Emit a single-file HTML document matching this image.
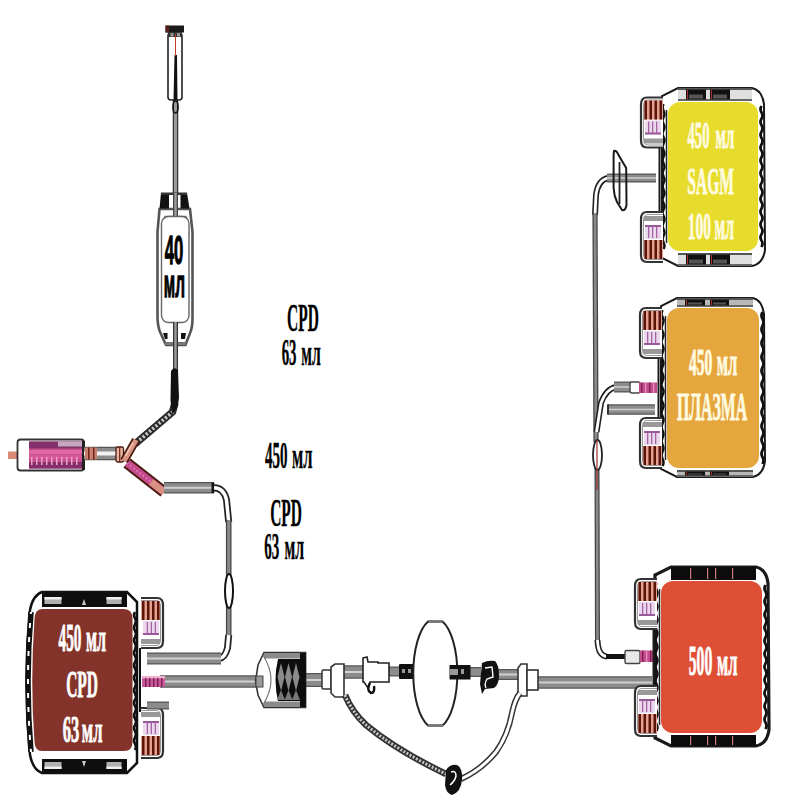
<!DOCTYPE html>
<html><head><meta charset="utf-8"><style>
html,body{margin:0;padding:0;background:#fff;width:800px;height:800px;overflow:hidden}
svg{display:block}
.t{font-family:"Liberation Serif",serif;font-weight:bold}
.s{font-family:"Liberation Sans",sans-serif;font-weight:bold}
</style></head><body>
<svg width="800" height="800" viewBox="0 0 800 800">

<rect width="800" height="800" fill="#fff"/>

<line x1="175.5" y1="100" x2="175.5" y2="194" stroke="#333" stroke-width="5.5"/>
<line x1="175.5" y1="100" x2="175.5" y2="194" stroke="#9a9a9a" stroke-width="3.0"/>
<rect x="168" y="33" width="14" height="67" rx="3" fill="#fff" stroke="#222" stroke-width="1.6"/>
<rect x="165.5" y="25.5" width="18.5" height="7" fill="#1a1a1a"/>
<rect x="165.5" y="25.5" width="3.5" height="7" fill="#5a2020"/>
<rect x="168" y="32" width="14" height="5" fill="#333"/>
<rect x="170.5" y="33" width="3" height="3.5" fill="#999"/><rect x="177" y="33" width="3" height="3.5" fill="#999"/>
<path d="M174.5 55 L177 55 L177.5 100 L173.5 100 Z" fill="#111"/>
<line x1="175.5" y1="34" x2="175.5" y2="56" stroke="#c0392b" stroke-width="1"/>
<ellipse cx="175.5" cy="107" rx="2.5" ry="6" fill="none" stroke="#111" stroke-width="1.6"/>
<path d="M159.5 209 L157.5 232 L157.5 318 Q158 328 160.5 333 L166 345 L185.5 345 L190 333 Q192.5 328 192.5 318 L192.5 232 L190 209 Z" fill="#fff" stroke="#555" stroke-width="2.6"/>
<path d="M161 193 L169 193 L169 208.5 L159.5 208.5 Z" fill="#111"/>
<path d="M180.5 193 L187 193 L189.5 208.5 L180.5 208.5 Z" fill="#111"/>
<rect x="161" y="192.5" width="26" height="2.5" fill="#333"/>
<path d="M161.8 234 L165 216.5 L186 216.5 L189 234" fill="none" stroke="#777" stroke-width="1.5"/>
<rect x="161.5" y="216.5" width="27.5" height="106" rx="7" fill="#fff" stroke="#666" stroke-width="1.4"/>
<path d="M163 333 L167.5 333 L167.5 339 L165 339 Z" fill="#111"/>
<path d="M181 333 L186 333 L185 339 L181 339 Z" fill="#111"/>
<rect x="165" y="342" width="21" height="3" fill="#777"/>
<line x1="175.5" y1="193" x2="175.5" y2="216" stroke="#444" stroke-width="5"/>
<line x1="175.5" y1="193" x2="175.5" y2="216" stroke="#999" stroke-width="2.5"/>
<line x1="175.5" y1="322" x2="175.5" y2="372" stroke="#333" stroke-width="5"/>
<line x1="175.5" y1="322" x2="175.5" y2="372" stroke="#9a9a9a" stroke-width="2.5"/>
<text transform="translate(164.65,263.61) scale(0.1666,0.4040)" style="font-family:'Liberation Sans',sans-serif;font-weight:bold;font-size:100px;font-kerning:none" fill="#000" stroke="#000" stroke-width="1.0" vector-effect="non-scaling-stroke" stroke-linejoin="round">40</text>
<text transform="translate(163.83,297.42) scale(0.1538,0.3866)" style="font-family:'Liberation Sans',sans-serif;font-weight:bold;font-size:100px;font-kerning:none" fill="#000" stroke="#000" stroke-width="1.0" vector-effect="non-scaling-stroke" stroke-linejoin="round">мл</text>
<path d="M175 403 L172.5 412 L135 444" fill="none" stroke="#2a2a2a" stroke-width="7.5"/>
<path d="M175 403 L172.5 412 L135 444" fill="none" stroke="#c8c8c8" stroke-width="3.6" stroke-dasharray="2.2 2"/>
<path d="M171 371 Q174 366 178 370 L179 398 Q178 410 172 414 L170.5 400 Z" fill="#111"/>
<rect x="8" y="451.5" width="11" height="7.5" fill="#d98a74"/>
<rect x="17.5" y="439.5" width="66.5" height="31" rx="3" fill="#fff" stroke="#333" stroke-width="1.8"/>
<rect x="29" y="441.5" width="54" height="27" fill="#c44f8d"/>
<rect x="29" y="441.5" width="54" height="7" fill="#84306a"/>
<rect x="58" y="441.5" width="25" height="5" fill="#c8a8c0"/>
<rect x="29" y="462" width="54" height="6.5" fill="#84306a"/>
<rect x="29" y="450" width="54" height="4" fill="#e066a6"/>
<rect x="29" y="455" width="54" height="4" fill="#d9589a"/>
<rect x="31" y="457" width="1.5" height="8" fill="#f0a0c8"/>
<rect x="36" y="457" width="1.5" height="8" fill="#f0a0c8"/>
<rect x="41" y="457" width="1.5" height="8" fill="#f0a0c8"/>
<rect x="46" y="457" width="1.5" height="8" fill="#f0a0c8"/>
<rect x="51" y="457" width="1.5" height="8" fill="#f0a0c8"/>
<rect x="56" y="457" width="1.5" height="8" fill="#f0a0c8"/>
<rect x="61" y="457" width="1.5" height="8" fill="#f0a0c8"/>
<rect x="66" y="457" width="1.5" height="8" fill="#f0a0c8"/>
<rect x="71" y="457" width="1.5" height="8" fill="#f0a0c8"/>
<rect x="76" y="457" width="1.5" height="8" fill="#f0a0c8"/>
<rect x="82" y="441" width="3" height="29" fill="#222"/>
<line x1="84" y1="453.5" x2="117" y2="453.5" stroke="#555" stroke-width="13.5"/>
<line x1="84" y1="453.5" x2="117" y2="453.5" stroke="#8c8c8c" stroke-width="11.0"/>
<line x1="84" y1="453.5" x2="117" y2="453.5" stroke="#f2f2f2" stroke-width="4"/>
<rect x="85" y="447.5" width="12" height="12" fill="#c98070"/>
<rect x="88" y="447.5" width="1.5" height="12" fill="#6a2418"/><rect x="93" y="447.5" width="1.5" height="12" fill="#6a2418"/>
<path d="M127 463 L164 492" fill="none" stroke="#4a1a10" stroke-width="11.5"/>
<path d="M127 463 L164 492" fill="none" stroke="#c44b8c" stroke-width="7.5"/>
<path d="M127 463 L164 492" fill="none" stroke="#e880b8" stroke-width="1.8" stroke-dasharray="1.5 2.5"/>
<path d="M151 482 L164 492" fill="none" stroke="#d99080" stroke-width="7"/>
<rect x="116" y="447" width="7.5" height="15" rx="1.5" fill="#e8b4a4" stroke="#4a1a10" stroke-width="1.3"/>
<line x1="119.7" y1="447" x2="119.7" y2="462" stroke="#6a2418" stroke-width="1.2"/>
<path d="M124 461 L136 440" fill="none" stroke="#4a1a10" stroke-width="8.5"/>
<path d="M124 461 L136 440" fill="none" stroke="#d89484" stroke-width="5"/>
<path d="M125.5 456 L133 443" fill="none" stroke="#f5cabc" stroke-width="1.5"/>
<line x1="164" y1="487.7" x2="214" y2="487.7" stroke="#555" stroke-width="11.5"/>
<line x1="164" y1="487.7" x2="214" y2="487.7" stroke="#8c8c8c" stroke-width="9.0"/>
<line x1="164" y1="487.7" x2="214" y2="487.7" stroke="#d0d0d0" stroke-width="2"/>
<rect x="211.5" y="482.5" width="2.8" height="10.5" fill="#111"/>
<path d="M214 487.7 Q224 488 226.5 500 L228.7 522" fill="none" stroke="#222" stroke-width="7"/>
<path d="M214 487.7 Q224 488 226.5 500 L228.7 522" fill="none" stroke="#fff" stroke-width="3.5"/>
<line x1="228.7" y1="520" x2="228.7" y2="637" stroke="#444" stroke-width="5.6"/>
<line x1="228.7" y1="520" x2="228.7" y2="637" stroke="#8a8a8a" stroke-width="3.0999999999999996"/>
<path d="M228.7 635 L227.5 648 Q225 658 219 658.5" fill="none" stroke="#222" stroke-width="7"/>
<path d="M228.7 635 L227.5 648 Q225 658 219 658.5" fill="none" stroke="#fff" stroke-width="3.5"/>
<line x1="147" y1="658.5" x2="221" y2="658.5" stroke="#555" stroke-width="12"/>
<line x1="147" y1="658.5" x2="221" y2="658.5" stroke="#8c8c8c" stroke-width="9.5"/>
<line x1="147" y1="658.5" x2="221" y2="658.5" stroke="#d0d0d0" stroke-width="2"/>
<ellipse cx="229" cy="591" rx="4" ry="17" fill="#fff" stroke="#111" stroke-width="2"/>
<line x1="160" y1="681.5" x2="257" y2="681.5" stroke="#555" stroke-width="12.5"/>
<line x1="160" y1="681.5" x2="257" y2="681.5" stroke="#8c8c8c" stroke-width="10.0"/>
<line x1="160" y1="681.5" x2="257" y2="681.5" stroke="#d0d0d0" stroke-width="2"/>
<line x1="305" y1="680" x2="323" y2="680" stroke="#555" stroke-width="14"/>
<line x1="305" y1="680" x2="323" y2="680" stroke="#8c8c8c" stroke-width="11.5"/>
<line x1="305" y1="680" x2="323" y2="680" stroke="#d0d0d0" stroke-width="2"/>
<line x1="344" y1="672" x2="363" y2="672" stroke="#555" stroke-width="13.5"/>
<line x1="344" y1="672" x2="363" y2="672" stroke="#8c8c8c" stroke-width="11.0"/>
<line x1="344" y1="672" x2="363" y2="672" stroke="#d0d0d0" stroke-width="2"/>
<line x1="389" y1="671.5" x2="400" y2="671.5" stroke="#555" stroke-width="10"/>
<line x1="389" y1="671.5" x2="400" y2="671.5" stroke="#8c8c8c" stroke-width="7.5"/>
<line x1="470" y1="672" x2="481" y2="672" stroke="#555" stroke-width="10"/>
<line x1="470" y1="672" x2="481" y2="672" stroke="#8c8c8c" stroke-width="7.5"/>
<line x1="498" y1="674.5" x2="518" y2="674.5" stroke="#555" stroke-width="11"/>
<line x1="498" y1="674.5" x2="518" y2="674.5" stroke="#8c8c8c" stroke-width="8.5"/>
<line x1="498" y1="674.5" x2="518" y2="674.5" stroke="#d0d0d0" stroke-width="2"/>
<line x1="537" y1="682.5" x2="652" y2="682.5" stroke="#555" stroke-width="12.5"/>
<line x1="537" y1="682.5" x2="652" y2="682.5" stroke="#8c8c8c" stroke-width="10.0"/>
<line x1="537" y1="682.5" x2="652" y2="682.5" stroke="#d0d0d0" stroke-width="2"/>
<path d="M42 592 L127 592 L137 602 L137 763 L127 773 L42 773 Q33 770 30 755 Q23 682 30 610 Q33 595 42 592 Z" fill="#fff" stroke="#111" stroke-width="2.5"/>
<rect x="42" y="593" width="85" height="14" fill="#0e0e0e"/>
<rect x="44.5" y="597" width="17" height="7" fill="#b0b0b0"/>
<rect x="44.5" y="597" width="17" height="2.5" fill="#f0f0f0"/>
<rect x="106.5" y="597" width="15" height="7" fill="#b0b0b0"/>
<rect x="106.5" y="597" width="15" height="2.5" fill="#f0f0f0"/>
<path d="M82 605 L84 599 L86 605 Z" fill="#ccc"/>
<rect x="42" y="759" width="85" height="14" fill="#0e0e0e"/>
<rect x="44.5" y="762" width="17" height="7" fill="#b0b0b0"/>
<rect x="44.5" y="766.5" width="17" height="2.5" fill="#f0f0f0"/>
<rect x="106.5" y="762" width="15" height="7" fill="#b0b0b0"/>
<rect x="106.5" y="766.5" width="15" height="2.5" fill="#f0f0f0"/>
<path d="M82 761 L84 767 L86 761 Z" fill="#ccc"/>
<path d="M31 612 Q25 682 31 752" fill="none" stroke="#111" stroke-width="5.5"/>
<path d="M31 612 Q25 682 31 752" fill="none" stroke="#fff" stroke-width="2" stroke-dasharray="5 9" stroke-dashoffset="3"/>

<path d="M0 0 q-2 4 0 8 q2 4 0 8 q-2 4 0 8 q2 4 0 8 q-2 4 0 8 q2 4 0 8 q-2 4 0 8 q2 4 0 8 q-2 4 0 8 q2 4 0 8 q-2 4 0 8 q2 4 0 8 q-2 4 0 8 q2 4 0 8 q-2 4 0 8 q2 4 0 8 q-2 4 0 8 q2 4 0 8 q-2 4 0 8 q2 4 0 8 q-2 4 0 8 q2 4 0 8" transform="translate(135,612) scale(1,0.784)" fill="none" stroke="#111" stroke-width="2.6"/>

<path d="M42 609 L124 609 Q132.5 609 132.5 619 L132.5 742 Q132.5 751 124 751 L42 751 Q35 751 34.5 742 Q30 682 34.5 619 Q35 609 42 609 Z" fill="#84332a"/>
<text transform="translate(58.54,651.00) scale(0.1529,0.4060)" style="font-family:'Liberation Serif',serif;font-weight:bold;font-size:100px;font-kerning:none" fill="#fff" stroke="#fff" stroke-width="0.7" vector-effect="non-scaling-stroke" stroke-linejoin="round">450</text>
<text transform="translate(86.08,651.03) scale(0.1606,0.3765)" style="font-family:'Liberation Serif',serif;font-weight:bold;font-size:100px;font-kerning:none" fill="#fff" stroke="#fff" stroke-width="0.7" vector-effect="non-scaling-stroke" stroke-linejoin="round">мл</text>
<text transform="translate(66.14,696.52) scale(0.1548,0.3885)" style="font-family:'Liberation Serif',serif;font-weight:bold;font-size:100px;font-kerning:none" fill="#fff" stroke="#fff" stroke-width="0.7" vector-effect="non-scaling-stroke" stroke-linejoin="round">CPD</text>
<text transform="translate(62.64,742.22) scale(0.1653,0.3885)" style="font-family:'Liberation Serif',serif;font-weight:bold;font-size:100px;font-kerning:none" fill="#fff" stroke="#fff" stroke-width="0.7" vector-effect="non-scaling-stroke" stroke-linejoin="round">63</text>
<text transform="translate(81.86,742.25) scale(0.1656,0.3627)" style="font-family:'Liberation Serif',serif;font-weight:bold;font-size:100px;font-kerning:none" fill="#fff" stroke="#fff" stroke-width="0.7" vector-effect="non-scaling-stroke" stroke-linejoin="round">мл</text>
<path d="M264 652.5 L305.6 652.5 L305.6 707.5 L264 707.5 L258 695 L255.6 681 L258 665 Z" fill="#fff" stroke="#333" stroke-width="1.6"/>
<rect x="264" y="653" width="38" height="5.5" fill="#8a8a8a"/>
<rect x="264" y="701.5" width="38" height="5.5" fill="#8a8a8a"/>
<path d="M263 655 Q271 668 271 680 Q271 692 263 705" fill="none" stroke="#777" stroke-width="1.2"/>
<path d="M278 659 L305.6 659 L305.6 701 L278 701 Q273 680 278 659 Z" fill="#0d0d0d"/>
<rect x="300" y="653" width="5.6" height="54" fill="#0d0d0d"/>
<path d="M281 663 L284.5 677 L281 691 L277.5 677 Z M288.5 663 L292 677 L288.5 691 L285 677 Z M296 663 L299.5 677 L296 691 L292.5 677 Z" fill="#8a8a8a"/>
<path d="M284.5 700 L288.5 690 L292.5 700 Z M277 700 L281 690 L285 700 Z M292 700 L296 690 L300 700 Z" fill="#777"/>
<rect x="256" y="676" width="7" height="11" fill="#999" stroke="#444" stroke-width="1"/>
<rect x="322" y="670" width="9" height="19" rx="1.5" fill="#fff" stroke="#333" stroke-width="1.5"/>
<path d="M331 667 L335 664 L344 664 L344 697 L335 697 L331 693 Z" fill="#fff" stroke="#333" stroke-width="1.6"/>
<path d="M363 658 L367 657 L368 662 L378 662 L378 663 L389 663 L389 682 L370 682 L368 688 L364 682 L363 682 Z" fill="#fff" stroke="#222" stroke-width="1.6"/>
<path d="M370 683 Q366 690 371 693 Q375 693 374 686" fill="none" stroke="#111" stroke-width="2.5"/>
<rect x="399" y="664" width="15" height="15" rx="1" fill="#111"/>
<rect x="402" y="669" width="3" height="4" fill="#999"/><rect x="408" y="669" width="3" height="4" fill="#999"/>
<path d="M428.1 621.5 L442.5 621.5 A22 55 0 0 1 442.5 725.5 L428.1 725.5 A22 55 0 0 1 428.1 621.5 Z" fill="#fff" stroke="#222" stroke-width="2"/>
<line x1="428.5" y1="621.5" x2="442.5" y2="621.5" stroke="#777" stroke-width="2.5"/>
<line x1="428" y1="725.5" x2="443" y2="725.5" stroke="#777" stroke-width="2.5"/>
<rect x="449.5" y="665" width="21" height="14.5" fill="#111"/>
<rect x="450" y="669" width="8" height="6" fill="#999"/>
<rect x="461" y="669" width="3" height="5" fill="#999"/>
<path d="M482 663 Q488 660 495 661 Q499 665 499 675 Q499 685 494 688 L485 689 L482 694 L480 684 Z" fill="#111"/>
<path d="M485 668 L492 667 L493 677 L487 679 Q484 684 486 688" fill="none" stroke="#fff" stroke-width="1.4"/>
<path d="M518 668 L521 664 L527 664 L527 696 L521 696 L518 692 Z" fill="#fff" stroke="#333" stroke-width="1.6"/>
<rect x="527" y="670" width="11" height="20" fill="#fff" stroke="#333" stroke-width="1.6"/>
<path d="M345 695 Q352 712 366 725 Q396 750 446 774" fill="none" stroke="#333" stroke-width="6.5"/>
<path d="M345 695 Q352 712 366 725 Q396 750 446 774" fill="none" stroke="#c8c8c8" stroke-width="3" stroke-dasharray="2 1.6"/>
<path d="M461 779 Q481 770 496 752 Q508 735 512 713 Q515 699 520 693" fill="none" stroke="#333" stroke-width="6"/>
<path d="M461 779 Q481 770 496 752 Q508 735 512 713 Q515 699 520 693" fill="none" stroke="#fff" stroke-width="3"/>
<path d="M446 770 Q450 764 457 765 Q463 768 462 780 Q461 792 452 795 Q446 793 445 785 Z" fill="#111"/>
<path d="M451 772 Q456 770 456 776 Q455 781 450 785" fill="none" stroke="#fff" stroke-width="1.5"/>
<path d="M608 178 Q598 180 596 195 L595 215" fill="none" stroke="#222" stroke-width="6"/>
<path d="M608 178 Q598 180 596 195 L595 215" fill="none" stroke="#fff" stroke-width="2.8"/>
<line x1="595" y1="213" x2="596" y2="442" stroke="#444" stroke-width="5.2"/>
<line x1="595" y1="213" x2="596" y2="442" stroke="#8a8a8a" stroke-width="2.7"/>
<line x1="597" y1="468" x2="597.5" y2="642" stroke="#444" stroke-width="5"/>
<line x1="597" y1="468" x2="597.5" y2="642" stroke="#8a8a8a" stroke-width="2.5"/>
<path d="M597.5 640 Q598 656 607 656.5" fill="none" stroke="#222" stroke-width="6"/>
<path d="M597.5 640 Q598 656 607 656.5" fill="none" stroke="#fff" stroke-width="2.8"/>
<line x1="606" y1="656.5" x2="626" y2="656.5" stroke="#111" stroke-width="5"/>
<line x1="607" y1="178" x2="656" y2="178" stroke="#555" stroke-width="9"/>
<line x1="607" y1="178" x2="656" y2="178" stroke="#8c8c8c" stroke-width="6.5"/>
<line x1="607" y1="178" x2="656" y2="178" stroke="#d0d0d0" stroke-width="1.5"/>
<path d="M614 151 Q616.5 150 618.5 155 L626.2 168 L626.5 205 Q625.5 211 622 210 L617 202 Q614 196 613.6 188 L613.6 155 Z" fill="none" stroke="#1a1a1a" stroke-width="2"/>
<path d="M619.5 162 L619.5 204" fill="none" stroke="#222" stroke-width="1.8"/>
<path d="M616 387 Q606 389 601 403 L596.5 432" fill="none" stroke="#222" stroke-width="6"/>
<path d="M616 387 Q606 389 601 403 L596.5 432" fill="none" stroke="#fff" stroke-width="2.8"/>
<line x1="614" y1="387" x2="631" y2="387" stroke="#555" stroke-width="11"/>
<line x1="614" y1="387" x2="631" y2="387" stroke="#8c8c8c" stroke-width="8.5"/>
<line x1="614" y1="387" x2="631" y2="387" stroke="#d0d0d0" stroke-width="1.5"/>
<rect x="630" y="382" width="10" height="11" rx="2" fill="#fff" stroke="#444" stroke-width="1.4"/>
<rect x="639" y="382.5" width="18" height="10.5" fill="#c04c8c"/>
<rect x="641" y="382.5" width="1.3" height="10.5" fill="#7a2050"/><rect x="645" y="382.5" width="1.3" height="10.5" fill="#e890c0"/><rect x="649" y="382.5" width="1.3" height="10.5" fill="#7a2050"/><rect x="653" y="382.5" width="1.3" height="10.5" fill="#e890c0"/>
<line x1="608" y1="409.5" x2="655" y2="409.5" stroke="#555" stroke-width="10.5"/>
<line x1="608" y1="409.5" x2="655" y2="409.5" stroke="#8c8c8c" stroke-width="8.0"/>
<line x1="608" y1="409.5" x2="655" y2="409.5" stroke="#d0d0d0" stroke-width="1.5"/>
<rect x="607" y="404.3" width="2" height="10.4" fill="#333"/>
<ellipse cx="597.5" cy="455" rx="4.5" ry="15" fill="#fff" stroke="#222" stroke-width="1.8"/>
<line x1="597" y1="440" x2="597" y2="490" stroke="#a03030" stroke-width="1.2"/>
<rect x="625" y="650.5" width="15" height="13" rx="1.5" fill="#e8e8e8" stroke="#444" stroke-width="1.4"/>
<rect x="640" y="650.5" width="18" height="11.5" fill="#c44b8c"/>
<rect x="642" y="650.5" width="1.3" height="11.5" fill="#7a2050"/><rect x="646" y="650.5" width="1.3" height="11.5" fill="#e890c0"/><rect x="650" y="650.5" width="1.3" height="11.5" fill="#7a2050"/><rect x="654" y="650.5" width="1.3" height="11.5" fill="#e890c0"/>
<path d="M678 88 L752 88 Q762 90 764 104 L765 250 Q763 264 752 266 L678 266 L662 258 L662 96 Z" fill="#fff" stroke="#1a1a1a" stroke-width="2"/>
<path d="M0 0 q-2 4 0 8 q2 4 0 8 q-2 4 0 8 q2 4 0 8 q-2 4 0 8 q2 4 0 8 q-2 4 0 8 q2 4 0 8 q-2 4 0 8 q2 4 0 8 q-2 4 0 8 q2 4 0 8 q-2 4 0 8 q2 4 0 8 q-2 4 0 8 q2 4 0 8 q-2 4 0 8 q2 4 0 8 q-2 4 0 8 q2 4 0 8 q-2 4 0 8 q2 4 0 8" transform="translate(761.5,106) scale(1,0.8011363636363636)" fill="none" stroke="#111" stroke-width="2.8"/>
<rect x="678" y="88" width="74" height="13" fill="#e0e0e0"/>
<rect x="678" y="88" width="74" height="2" fill="#555"/>
<rect x="678" y="99" width="74" height="2" fill="#666"/>
<rect x="686" y="89.5" width="20" height="10" fill="#111"/>
<rect x="689" y="94.5" width="14" height="4.0" fill="#555"/>
<rect x="687" y="90" width="1" height="9" fill="#a33"/>
<rect x="710" y="89.5" width="20" height="10" fill="#111"/>
<rect x="713" y="94.5" width="14" height="4.0" fill="#555"/>
<rect x="711" y="90" width="1" height="9" fill="#a33"/>
<rect x="678" y="253" width="74" height="13" fill="#e0e0e0"/>
<rect x="678" y="253" width="74" height="2" fill="#555"/>
<rect x="678" y="264" width="74" height="2" fill="#666"/>
<rect x="686" y="254.5" width="20" height="10" fill="#111"/>
<rect x="689" y="259.5" width="14" height="4.0" fill="#555"/>
<rect x="687" y="255" width="1" height="9" fill="#a33"/>
<rect x="710" y="254.5" width="20" height="10" fill="#111"/>
<rect x="713" y="259.5" width="14" height="4.0" fill="#555"/>
<rect x="711" y="255" width="1" height="9" fill="#a33"/>
<rect x="668" y="102" width="90" height="149" rx="12" fill="#e7dc2b"/>
<line x1="666.5" y1="110" x2="666.5" y2="243" stroke="#222" stroke-width="1.5"/>
<path d="M0 0 q-2 4 0 8 q2 4 0 8 q-2 4 0 8 q2 4 0 8 q-2 4 0 8 q2 4 0 8 q-2 4 0 8 q2 4 0 8 q-2 4 0 8 q2 4 0 8 q-2 4 0 8 q2 4 0 8 q-2 4 0 8 q2 4 0 8 q-2 4 0 8 q2 4 0 8 q-2 4 0 8 q2 4 0 8 q-2 4 0 8 q2 4 0 8 q-2 4 0 8 q2 4 0 8" transform="translate(663.5,104) scale(1,0.8238636363636364)" fill="none" stroke="#111" stroke-width="2.5"/>
<line x1="659.5" y1="147.5" x2="659.5" y2="212" stroke="#1a1a1a" stroke-width="2"/>
<g transform="translate(640,97.5)">    <path d="M23 0 L7 0 Q1 0 1 7 L1 43 Q1 50 7 50 L23 50" fill="#fff" stroke="#333" stroke-width="2.2"/>
    <path d="M23 2.5 L8 2.5 Q3.5 2.5 3.5 8 L3.5 42 Q3.5 47.5 8 47.5 L23 47.5" fill="none" stroke="#999" stroke-width="1"/>
    <rect x="4" y="3" width="19" height="19" fill="#e6a090"/>
    <rect x="4.5" y="3" width="2.5" height="19" fill="#5a140a"/>
    <rect x="9.5" y="3" width="2.5" height="19" fill="#5a140a"/>
    <rect x="14.5" y="3" width="2.5" height="19" fill="#5a140a"/>
    <rect x="19.5" y="3" width="2.5" height="19" fill="#5a140a"/>
    <rect x="5" y="23" width="16" height="14" fill="#ecd8ec"/>
    <rect x="8" y="24" width="1.3" height="12" fill="#a463a4"/>
    <rect x="12" y="24" width="1.3" height="12" fill="#a463a4"/>
    <rect x="16" y="24" width="1.3" height="12" fill="#a463a4"/>
    <rect x="5" y="35" width="16" height="2" fill="#9a5a9a"/>
    <rect x="4" y="41" width="19" height="5" fill="#999"/>
</g>
<g transform="translate(640,262) scale(1,-1)">    <path d="M23 0 L7 0 Q1 0 1 7 L1 43 Q1 50 7 50 L23 50" fill="#fff" stroke="#333" stroke-width="2.2"/>
    <path d="M23 2.5 L8 2.5 Q3.5 2.5 3.5 8 L3.5 42 Q3.5 47.5 8 47.5 L23 47.5" fill="none" stroke="#999" stroke-width="1"/>
    <rect x="4" y="3" width="19" height="19" fill="#e6a090"/>
    <rect x="4.5" y="3" width="2.5" height="19" fill="#5a140a"/>
    <rect x="9.5" y="3" width="2.5" height="19" fill="#5a140a"/>
    <rect x="14.5" y="3" width="2.5" height="19" fill="#5a140a"/>
    <rect x="19.5" y="3" width="2.5" height="19" fill="#5a140a"/>
    <rect x="5" y="23" width="16" height="14" fill="#ecd8ec"/>
    <rect x="8" y="24" width="1.3" height="12" fill="#a463a4"/>
    <rect x="12" y="24" width="1.3" height="12" fill="#a463a4"/>
    <rect x="16" y="24" width="1.3" height="12" fill="#a463a4"/>
    <rect x="5" y="35" width="16" height="2" fill="#9a5a9a"/>
    <rect x="4" y="41" width="19" height="5" fill="#999"/>
</g>
<text transform="translate(687.50,147.93) scale(0.1471,0.3794)" style="font-family:'Liberation Serif',serif;font-weight:bold;font-size:100px;font-kerning:none" fill="#fffbe0" stroke="#fffbe0" stroke-width="0.7" vector-effect="non-scaling-stroke" stroke-linejoin="round">450</text>
<text transform="translate(715.40,147.96) scale(0.1530,0.3477)" style="font-family:'Liberation Serif',serif;font-weight:bold;font-size:100px;font-kerning:none" fill="#fffbe0" stroke="#fffbe0" stroke-width="0.7" vector-effect="non-scaling-stroke" stroke-linejoin="round">мл</text>
<text transform="translate(687.17,193.63) scale(0.1566,0.3795)" style="font-family:'Liberation Serif',serif;font-weight:bold;font-size:100px;font-kerning:none" fill="#fffbe0" stroke="#fffbe0" stroke-width="0.7" vector-effect="non-scaling-stroke" stroke-linejoin="round">SAGM</text>
<text transform="translate(687.77,238.84) scale(0.1541,0.3705)" style="font-family:'Liberation Serif',serif;font-weight:bold;font-size:100px;font-kerning:none" fill="#fffbe0" stroke="#fffbe0" stroke-width="0.7" vector-effect="non-scaling-stroke" stroke-linejoin="round">100</text>
<text transform="translate(714.59,238.82) scale(0.1572,0.3861)" style="font-family:'Liberation Serif',serif;font-weight:bold;font-size:100px;font-kerning:none" fill="#fffbe0" stroke="#fffbe0" stroke-width="0.7" vector-effect="non-scaling-stroke" stroke-linejoin="round">мл</text>
<path d="M677 298 L753 298 Q762 300 764 314 L765 461 Q763 475 753 477 L677 477 L661 469 L661 306 Z" fill="#fff" stroke="#1a1a1a" stroke-width="2"/>
<path d="M0 0 q-2 4 0 8 q2 4 0 8 q-2 4 0 8 q2 4 0 8 q-2 4 0 8 q2 4 0 8 q-2 4 0 8 q2 4 0 8 q-2 4 0 8 q2 4 0 8 q-2 4 0 8 q2 4 0 8 q-2 4 0 8 q2 4 0 8 q-2 4 0 8 q2 4 0 8 q-2 4 0 8 q2 4 0 8 q-2 4 0 8 q2 4 0 8 q-2 4 0 8 q2 4 0 8" transform="translate(762.5,312) scale(1,0.8636363636363636)" fill="none" stroke="#111" stroke-width="2.8"/>
<rect x="677" y="298" width="76" height="9" fill="#b8b8b8"/>
<rect x="677" y="298" width="76" height="2" fill="#555"/>
<rect x="677" y="305" width="76" height="2" fill="#666"/>
<rect x="685" y="299.5" width="20" height="6" fill="#111"/>
<rect x="688" y="302.5" width="14" height="2.0" fill="#555"/>
<rect x="686" y="300" width="1" height="5" fill="#a33"/>
<rect x="710" y="299.5" width="19" height="6" fill="#111"/>
<rect x="713" y="302.5" width="13" height="2.0" fill="#555"/>
<rect x="711" y="300" width="1" height="5" fill="#a33"/>
<rect x="677" y="470" width="76" height="7" fill="#b8b8b8"/>
<rect x="677" y="470" width="76" height="2" fill="#555"/>
<rect x="677" y="475" width="76" height="2" fill="#666"/>
<rect x="685" y="471.5" width="20" height="4" fill="#111"/>
<rect x="688" y="473.5" width="14" height="1.0" fill="#555"/>
<rect x="686" y="472" width="1" height="3" fill="#a33"/>
<rect x="710" y="471.5" width="19" height="4" fill="#111"/>
<rect x="713" y="473.5" width="13" height="1.0" fill="#555"/>
<rect x="711" y="472" width="1" height="3" fill="#a33"/>
<rect x="667" y="308" width="92" height="160" rx="12" fill="#e6a63e"/>
<line x1="665.5" y1="316" x2="665.5" y2="460" stroke="#222" stroke-width="1.5"/>
<path d="M0 0 q-2 4 0 8 q2 4 0 8 q-2 4 0 8 q2 4 0 8 q-2 4 0 8 q2 4 0 8 q-2 4 0 8 q2 4 0 8 q-2 4 0 8 q2 4 0 8 q-2 4 0 8 q2 4 0 8 q-2 4 0 8 q2 4 0 8 q-2 4 0 8 q2 4 0 8 q-2 4 0 8 q2 4 0 8 q-2 4 0 8 q2 4 0 8 q-2 4 0 8 q2 4 0 8" transform="translate(662.5,310) scale(1,0.8863636363636364)" fill="none" stroke="#111" stroke-width="2.5"/>
<line x1="658.5" y1="358" x2="658.5" y2="418" stroke="#1a1a1a" stroke-width="2"/>
<g transform="translate(639,308)">    <path d="M23 0 L7 0 Q1 0 1 7 L1 43 Q1 50 7 50 L23 50" fill="#fff" stroke="#333" stroke-width="2.2"/>
    <path d="M23 2.5 L8 2.5 Q3.5 2.5 3.5 8 L3.5 42 Q3.5 47.5 8 47.5 L23 47.5" fill="none" stroke="#999" stroke-width="1"/>
    <rect x="4" y="3" width="19" height="19" fill="#e6a090"/>
    <rect x="4.5" y="3" width="2.5" height="19" fill="#5a140a"/>
    <rect x="9.5" y="3" width="2.5" height="19" fill="#5a140a"/>
    <rect x="14.5" y="3" width="2.5" height="19" fill="#5a140a"/>
    <rect x="19.5" y="3" width="2.5" height="19" fill="#5a140a"/>
    <rect x="5" y="23" width="16" height="14" fill="#ecd8ec"/>
    <rect x="8" y="24" width="1.3" height="12" fill="#a463a4"/>
    <rect x="12" y="24" width="1.3" height="12" fill="#a463a4"/>
    <rect x="16" y="24" width="1.3" height="12" fill="#a463a4"/>
    <rect x="5" y="35" width="16" height="2" fill="#9a5a9a"/>
    <rect x="4" y="41" width="19" height="5" fill="#999"/>
</g>
<g transform="translate(639,468) scale(1,-1)">    <path d="M23 0 L7 0 Q1 0 1 7 L1 43 Q1 50 7 50 L23 50" fill="#fff" stroke="#333" stroke-width="2.2"/>
    <path d="M23 2.5 L8 2.5 Q3.5 2.5 3.5 8 L3.5 42 Q3.5 47.5 8 47.5 L23 47.5" fill="none" stroke="#999" stroke-width="1"/>
    <rect x="4" y="3" width="19" height="19" fill="#e6a090"/>
    <rect x="4.5" y="3" width="2.5" height="19" fill="#5a140a"/>
    <rect x="9.5" y="3" width="2.5" height="19" fill="#5a140a"/>
    <rect x="14.5" y="3" width="2.5" height="19" fill="#5a140a"/>
    <rect x="19.5" y="3" width="2.5" height="19" fill="#5a140a"/>
    <rect x="5" y="23" width="16" height="14" fill="#ecd8ec"/>
    <rect x="8" y="24" width="1.3" height="12" fill="#a463a4"/>
    <rect x="12" y="24" width="1.3" height="12" fill="#a463a4"/>
    <rect x="16" y="24" width="1.3" height="12" fill="#a463a4"/>
    <rect x="5" y="35" width="16" height="2" fill="#9a5a9a"/>
    <rect x="4" y="41" width="19" height="5" fill="#999"/>
</g>
<text transform="translate(688.89,374.53) scale(0.1554,0.3749)" style="font-family:'Liberation Serif',serif;font-weight:bold;font-size:100px;font-kerning:none" fill="#fffbe0" stroke="#fffbe0" stroke-width="0.7" vector-effect="non-scaling-stroke" stroke-linejoin="round">450</text>
<text transform="translate(716.76,374.52) scale(0.1656,0.3840)" style="font-family:'Liberation Serif',serif;font-weight:bold;font-size:100px;font-kerning:none" fill="#fffbe0" stroke="#fffbe0" stroke-width="0.7" vector-effect="non-scaling-stroke" stroke-linejoin="round">мл</text>
<text transform="translate(676.99,420.02) scale(0.1580,0.3929)" style="font-family:'Liberation Serif',serif;font-weight:bold;font-size:100px;font-kerning:none" fill="#fffbe0" stroke="#fffbe0" stroke-width="0.7" vector-effect="non-scaling-stroke" stroke-linejoin="round">ПЛАЗМА</text>
<path d="M671 567 L756 567 Q766 569 768 583 L769 730 Q767 744 756 746 L671 746 L655 738 L655 575 Z" fill="#fff" stroke="#1a1a1a" stroke-width="3.2"/>
<path d="M0 0 q-2 4 0 8 q2 4 0 8 q-2 4 0 8 q2 4 0 8 q-2 4 0 8 q2 4 0 8 q-2 4 0 8 q2 4 0 8 q-2 4 0 8 q2 4 0 8 q-2 4 0 8 q2 4 0 8 q-2 4 0 8 q2 4 0 8 q-2 4 0 8 q2 4 0 8 q-2 4 0 8 q2 4 0 8 q-2 4 0 8 q2 4 0 8 q-2 4 0 8 q2 4 0 8" transform="translate(765.5,585) scale(1,0.8181818181818182)" fill="none" stroke="#111" stroke-width="2.8"/>
<rect x="671" y="567" width="85" height="13" fill="#0c0c0c"/>
<rect x="690" y="568" width="1.2" height="11" fill="#d07a80"/>
<rect x="707" y="568" width="1.2" height="11" fill="#d07a80"/>
<rect x="715" y="568" width="1.2" height="11" fill="#d07a80"/>
<rect x="732" y="568" width="1.2" height="11" fill="#d07a80"/>
<rect x="671" y="735" width="85" height="11" fill="#0c0c0c"/>
<rect x="690" y="736" width="1.2" height="9" fill="#d07a80"/>
<rect x="707" y="736" width="1.2" height="9" fill="#d07a80"/>
<rect x="715" y="736" width="1.2" height="9" fill="#d07a80"/>
<rect x="732" y="736" width="1.2" height="9" fill="#d07a80"/>
<rect x="661" y="581" width="101" height="152" rx="12" fill="#df4f35"/>
<line x1="659.5" y1="589" x2="659.5" y2="725" stroke="#222" stroke-width="1.5"/>
<path d="M0 0 q-2 4 0 8 q2 4 0 8 q-2 4 0 8 q2 4 0 8 q-2 4 0 8 q2 4 0 8 q-2 4 0 8 q2 4 0 8 q-2 4 0 8 q2 4 0 8 q-2 4 0 8 q2 4 0 8 q-2 4 0 8 q2 4 0 8 q-2 4 0 8 q2 4 0 8 q-2 4 0 8 q2 4 0 8 q-2 4 0 8 q2 4 0 8 q-2 4 0 8 q2 4 0 8" transform="translate(656.5,583) scale(1,0.8409090909090909)" fill="none" stroke="#111" stroke-width="2.5"/>
<line x1="653.5" y1="629" x2="653.5" y2="686" stroke="#1a1a1a" stroke-width="2"/>
<g transform="translate(634,579)">    <path d="M23 0 L7 0 Q1 0 1 7 L1 43 Q1 50 7 50 L23 50" fill="#fff" stroke="#333" stroke-width="2.2"/>
    <path d="M23 2.5 L8 2.5 Q3.5 2.5 3.5 8 L3.5 42 Q3.5 47.5 8 47.5 L23 47.5" fill="none" stroke="#999" stroke-width="1"/>
    <rect x="4" y="3" width="19" height="19" fill="#e6a090"/>
    <rect x="4.5" y="3" width="2.5" height="19" fill="#5a140a"/>
    <rect x="9.5" y="3" width="2.5" height="19" fill="#5a140a"/>
    <rect x="14.5" y="3" width="2.5" height="19" fill="#5a140a"/>
    <rect x="19.5" y="3" width="2.5" height="19" fill="#5a140a"/>
    <rect x="5" y="23" width="16" height="14" fill="#ecd8ec"/>
    <rect x="8" y="24" width="1.3" height="12" fill="#a463a4"/>
    <rect x="12" y="24" width="1.3" height="12" fill="#a463a4"/>
    <rect x="16" y="24" width="1.3" height="12" fill="#a463a4"/>
    <rect x="5" y="35" width="16" height="2" fill="#9a5a9a"/>
    <rect x="4" y="41" width="19" height="5" fill="#999"/>
</g>
<g transform="translate(634,736) scale(1,-1)">    <path d="M23 0 L7 0 Q1 0 1 7 L1 43 Q1 50 7 50 L23 50" fill="#fff" stroke="#333" stroke-width="2.2"/>
    <path d="M23 2.5 L8 2.5 Q3.5 2.5 3.5 8 L3.5 42 Q3.5 47.5 8 47.5 L23 47.5" fill="none" stroke="#999" stroke-width="1"/>
    <rect x="4" y="3" width="19" height="19" fill="#e6a090"/>
    <rect x="4.5" y="3" width="2.5" height="19" fill="#5a140a"/>
    <rect x="9.5" y="3" width="2.5" height="19" fill="#5a140a"/>
    <rect x="14.5" y="3" width="2.5" height="19" fill="#5a140a"/>
    <rect x="19.5" y="3" width="2.5" height="19" fill="#5a140a"/>
    <rect x="5" y="23" width="16" height="14" fill="#ecd8ec"/>
    <rect x="8" y="24" width="1.3" height="12" fill="#a463a4"/>
    <rect x="12" y="24" width="1.3" height="12" fill="#a463a4"/>
    <rect x="16" y="24" width="1.3" height="12" fill="#a463a4"/>
    <rect x="5" y="35" width="16" height="2" fill="#9a5a9a"/>
    <rect x="4" y="41" width="19" height="5" fill="#999"/>
</g>
<text transform="translate(688.67,675.29) scale(0.1575,0.4149)" style="font-family:'Liberation Serif',serif;font-weight:bold;font-size:100px;font-kerning:none" fill="#fff" stroke="#fff" stroke-width="0.7" vector-effect="non-scaling-stroke" stroke-linejoin="round">500</text>
<text transform="translate(716.97,675.32) scale(0.1639,0.3883)" style="font-family:'Liberation Serif',serif;font-weight:bold;font-size:100px;font-kerning:none" fill="#fff" stroke="#fff" stroke-width="0.7" vector-effect="non-scaling-stroke" stroke-linejoin="round">мл</text>
<g transform="translate(164,598) scale(-1,1)">    <path d="M23 0 L7 0 Q1 0 1 7 L1 43 Q1 50 7 50 L23 50" fill="#fff" stroke="#333" stroke-width="2.2"/>
    <path d="M23 2.5 L8 2.5 Q3.5 2.5 3.5 8 L3.5 42 Q3.5 47.5 8 47.5 L23 47.5" fill="none" stroke="#999" stroke-width="1"/>
    <rect x="4" y="3" width="19" height="19" fill="#e6a090"/>
    <rect x="4.5" y="3" width="2.5" height="19" fill="#5a140a"/>
    <rect x="9.5" y="3" width="2.5" height="19" fill="#5a140a"/>
    <rect x="14.5" y="3" width="2.5" height="19" fill="#5a140a"/>
    <rect x="19.5" y="3" width="2.5" height="19" fill="#5a140a"/>
    <rect x="5" y="23" width="16" height="14" fill="#ecd8ec"/>
    <rect x="8" y="24" width="1.3" height="12" fill="#a463a4"/>
    <rect x="12" y="24" width="1.3" height="12" fill="#a463a4"/>
    <rect x="16" y="24" width="1.3" height="12" fill="#a463a4"/>
    <rect x="5" y="35" width="16" height="2" fill="#9a5a9a"/>
    <rect x="4" y="41" width="19" height="5" fill="#999"/>
</g>
<g transform="translate(164,758) scale(-1,-1)">    <path d="M23 0 L7 0 Q1 0 1 7 L1 43 Q1 50 7 50 L23 50" fill="#fff" stroke="#333" stroke-width="2.2"/>
    <path d="M23 2.5 L8 2.5 Q3.5 2.5 3.5 8 L3.5 42 Q3.5 47.5 8 47.5 L23 47.5" fill="none" stroke="#999" stroke-width="1"/>
    <rect x="4" y="3" width="19" height="19" fill="#e6a090"/>
    <rect x="4.5" y="3" width="2.5" height="19" fill="#5a140a"/>
    <rect x="9.5" y="3" width="2.5" height="19" fill="#5a140a"/>
    <rect x="14.5" y="3" width="2.5" height="19" fill="#5a140a"/>
    <rect x="19.5" y="3" width="2.5" height="19" fill="#5a140a"/>
    <rect x="5" y="23" width="16" height="14" fill="#ecd8ec"/>
    <rect x="8" y="24" width="1.3" height="12" fill="#a463a4"/>
    <rect x="12" y="24" width="1.3" height="12" fill="#a463a4"/>
    <rect x="16" y="24" width="1.3" height="12" fill="#a463a4"/>
    <rect x="5" y="35" width="16" height="2" fill="#9a5a9a"/>
    <rect x="4" y="41" width="19" height="5" fill="#999"/>
</g>
<line x1="140" y1="648" x2="140" y2="712" stroke="#111" stroke-width="2"/>
<rect x="142" y="676" width="23" height="11" fill="#c8589a"/>
<rect x="142" y="676" width="23" height="2.5" fill="#f0b0d0"/>
<rect x="145" y="678" width="1.4" height="9" fill="#7a2050"/>
<rect x="149" y="678" width="1.4" height="9" fill="#7a2050"/>
<rect x="153" y="678" width="1.4" height="9" fill="#7a2050"/>
<rect x="157" y="678" width="1.4" height="9" fill="#7a2050"/>
<rect x="161" y="678" width="1.4" height="9" fill="#7a2050"/>
<line x1="147" y1="705.5" x2="169" y2="705.5" stroke="#555" stroke-width="8"/>
<line x1="147" y1="705.5" x2="169" y2="705.5" stroke="#8c8c8c" stroke-width="5.5"/>
<text transform="translate(287.04,330.86) scale(0.1548,0.3952)" style="font-family:'Liberation Serif',serif;font-weight:bold;font-size:100px;font-kerning:none" fill="#000" stroke="#000" stroke-width="0.3" vector-effect="non-scaling-stroke" stroke-linejoin="round">CPD</text>
<text transform="translate(281.69,364.62) scale(0.1481,0.3885)" style="font-family:'Liberation Serif',serif;font-weight:bold;font-size:100px;font-kerning:none" fill="#000" stroke="#000" stroke-width="0.3" vector-effect="non-scaling-stroke" stroke-linejoin="round">63</text>
<text transform="translate(301.29,364.64) scale(0.1564,0.3648)" style="font-family:'Liberation Serif',serif;font-weight:bold;font-size:100px;font-kerning:none" fill="#000" stroke="#000" stroke-width="0.3" vector-effect="non-scaling-stroke" stroke-linejoin="round">мл</text>
<text transform="translate(264.99,467.72) scale(0.1505,0.3897)" style="font-family:'Liberation Serif',serif;font-weight:bold;font-size:100px;font-kerning:none" fill="#000" stroke="#000" stroke-width="0.3" vector-effect="non-scaling-stroke" stroke-linejoin="round">450</text>
<text transform="translate(292.07,467.74) scale(0.1648,0.3648)" style="font-family:'Liberation Serif',serif;font-weight:bold;font-size:100px;font-kerning:none" fill="#000" stroke="#000" stroke-width="0.3" vector-effect="non-scaling-stroke" stroke-linejoin="round">мл</text>
<text transform="translate(270.15,525.62) scale(0.1543,0.3900)" style="font-family:'Liberation Serif',serif;font-weight:bold;font-size:100px;font-kerning:none" fill="#000" stroke="#000" stroke-width="0.3" vector-effect="non-scaling-stroke" stroke-linejoin="round">CPD</text>
<text transform="translate(264.29,559.33) scale(0.1503,0.3766)" style="font-family:'Liberation Serif',serif;font-weight:bold;font-size:100px;font-kerning:none" fill="#000" stroke="#000" stroke-width="0.3" vector-effect="non-scaling-stroke" stroke-linejoin="round">63</text>
<text transform="translate(284.48,559.35) scale(0.1581,0.3627)" style="font-family:'Liberation Serif',serif;font-weight:bold;font-size:100px;font-kerning:none" fill="#000" stroke="#000" stroke-width="0.3" vector-effect="non-scaling-stroke" stroke-linejoin="round">мл</text>
</svg>
</body></html>
